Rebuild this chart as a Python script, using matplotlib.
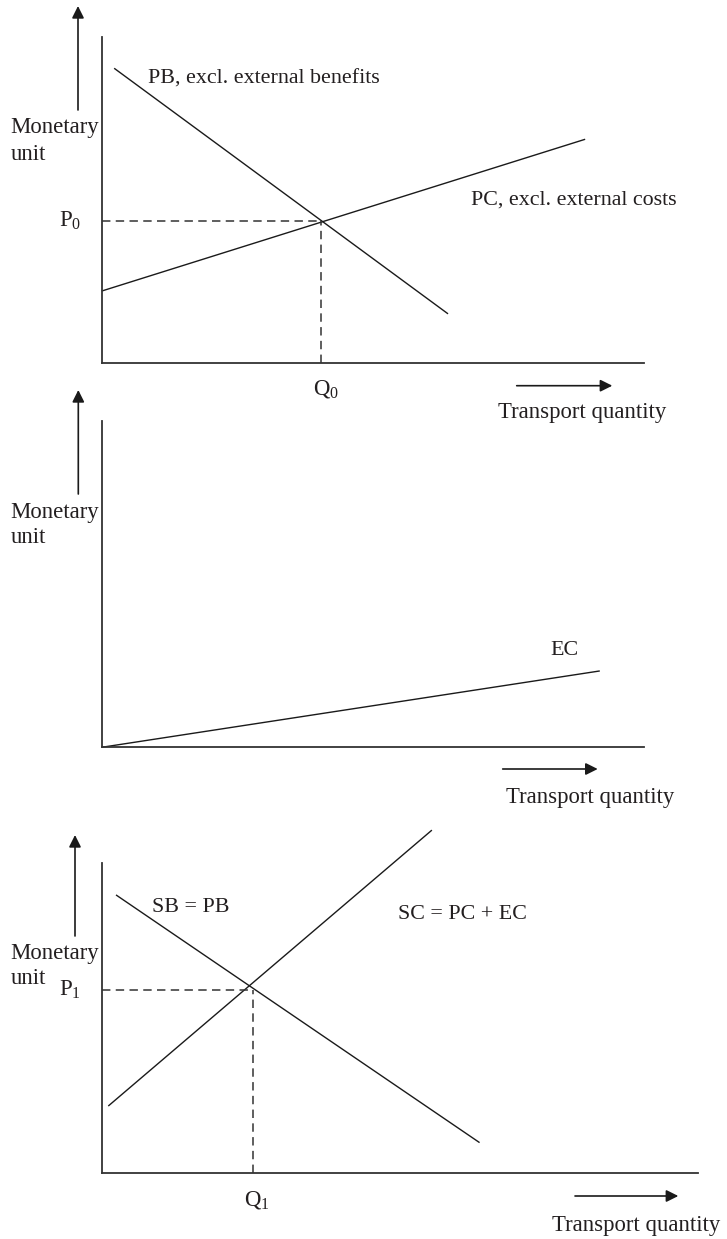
import matplotlib
matplotlib.use("Agg")
import matplotlib.pyplot as plt

plt.rcParams['font.family'] = ['Liberation Serif', 'DejaVu Serif']
plt.rcParams['mathtext.fontset'] = 'custom'
plt.rcParams['mathtext.rm'] = 'Liberation Serif'
plt.rcParams['mathtext.it'] = 'Liberation Serif'

# ---- data (schematic units, axis box = 0..100) ----
# Panel 1
pb_x = [2.3, 63.9]
pb_y = [90.4, 15.0]
pc_x = [0.0, 89.2]
pc_y = [22.0, 68.6]
q0 = 40.4
p0 = 43.6
# Panel 2
ec_x = [0.0, 91.9]
ec_y = [0.0, 23.4]
# Panel 3
sb_x = [2.3, 63.3]
sb_y = [89.8, 9.9]
sc_x = [1.0, 55.3]
sc_y = [21.7, 110.7]
q1 = 25.3
p1 = 59.1

W, H = 727, 1239
TXT = '#231f20'
LINE = '#1a1a1a'
FS_IN = 15.8
FS_AX = 16.4

fig = plt.figure(figsize=(W / 100, H / 100), dpi=100)


def fx(x):
    return x / W


def fy(y):
    return 1 - y / H


def make_axes(x0, x1, ytop, ybot):
    ax = fig.add_axes([fx(x0), fy(ybot), (x1 - x0) / W, (ybot - ytop) / H])
    ax.set_xlim(0, 100)
    ax.set_ylim(0, 100)
    for s in ['top', 'right']:
        ax.spines[s].set_visible(False)
    for s in ['left', 'bottom']:
        ax.spines[s].set_linewidth(1.3)
        ax.spines[s].set_color('#333333')
    ax.set_xticks([])
    ax.set_yticks([])
    ax.patch.set_alpha(0)
    return ax


def arrow(x0, y0, x1, y1):
    fig.add_artist(matplotlib.patches.FancyArrowPatch(
        (fx(x0), fy(y0)), (fx(x1), fy(y1)), transform=fig.transFigure,
        arrowstyle='-|>', mutation_scale=18, lw=1.2, color='#1a1a1a',
        shrinkA=0, shrinkB=0))


def ylabel(y1, y2):
    fig.text(fx(10.7), fy(y1), 'Monetary', ha='left', va='center',
             fontsize=FS_AX, color=TXT)
    fig.text(fx(10.7), fy(y2), 'unit', ha='left', va='center',
             fontsize=FS_AX, color=TXT)


def xlabel(x, y):
    fig.text(fx(x), fy(y), 'Transport quantity', ha='left', va='center',
             fontsize=FS_AX, color=TXT)


dash = dict(color='#333333', lw=1.1, linestyle=(0, (5.5, 3.5)))
solid = dict(color=LINE, lw=1.0, solid_capstyle='butt')

# ---- Panel 1 ----
ax1 = make_axes(101.7, 643.7, 37, 362.7)
ax1.plot(pb_x, pb_y, clip_on=False, **solid)
ax1.plot(pc_x, pc_y, clip_on=False, **solid)
ax1.plot([0, q0], [p0, p0], **dash)
ax1.plot([q0, q0], [0, p0], **dash)
ax1.text(8.5, 87.1, 'PB, excl. external benefits', ha='left', va='center',
         fontsize=FS_IN, color=TXT)
ax1.text(68.1, 50.0, 'PC, excl. external costs', ha='left', va='center',
         fontsize=FS_IN, color=TXT)
ax1.annotate(r'P$_{\mathrm{0}}$', xy=(0, p0), xytext=(-15, 0),
             textcoords='offset points', ha='right', va='center',
             fontsize=FS_AX, color=TXT, annotation_clip=False)
ax1.annotate(r'Q$_{\mathrm{0}}$', xy=(q0, 0), xytext=(4, -19),
             textcoords='offset points', ha='center', va='center',
             fontsize=FS_AX, color=TXT, annotation_clip=False)
arrow(78, 110, 78, 6)
arrow(516.7, 385.7, 612.3, 385.7)
ylabel(128, 154)
xlabel(497.7, 413)

# ---- Panel 2 ----
ax2 = make_axes(101.7, 643.7, 421, 747.3)
ax2.plot(ec_x, ec_y, clip_on=False, **solid)
ax2.text(85.3, 29.6, 'EC', ha='center', va='center', fontsize=FS_IN, color=TXT)
arrow(78.3, 494, 78.3, 390)
arrow(502.7, 769, 597.7, 769)
ylabel(512.7, 537.7)
xlabel(505.7, 797.3)

# ---- Panel 3 ----
ax3 = make_axes(102.3, 698.3, 863.3, 1173.3)
ax3.plot(sb_x, sb_y, clip_on=False, **solid)
ax3.plot(sc_x, sc_y, clip_on=False, **solid)
ax3.plot([0, q1], [p1, p1], **dash)
ax3.plot([q1, q1], [0, p1], **dash)
ax3.text(8.3, 85.7, 'SB = PB', ha='left', va='center', fontsize=FS_IN, color=TXT)
ax3.text(49.6, 83.5, 'SC = PC + EC', ha='left', va='center', fontsize=FS_IN, color=TXT)
ax3.annotate(r'P$_{\mathrm{1}}$', xy=(0, p1), xytext=(-15.5, 0),
             textcoords='offset points', ha='right', va='center',
             fontsize=FS_AX, color=TXT, annotation_clip=False)
ax3.annotate(r'Q$_{\mathrm{1}}$', xy=(q1, 0), xytext=(3, -19),
             textcoords='offset points', ha='center', va='center',
             fontsize=FS_AX, color=TXT, annotation_clip=False)
arrow(75, 936, 75, 835)
arrow(575, 1196, 678.3, 1196)
ylabel(954, 979)
xlabel(552.3, 1225)

fig.savefig('out.png', dpi=100)
